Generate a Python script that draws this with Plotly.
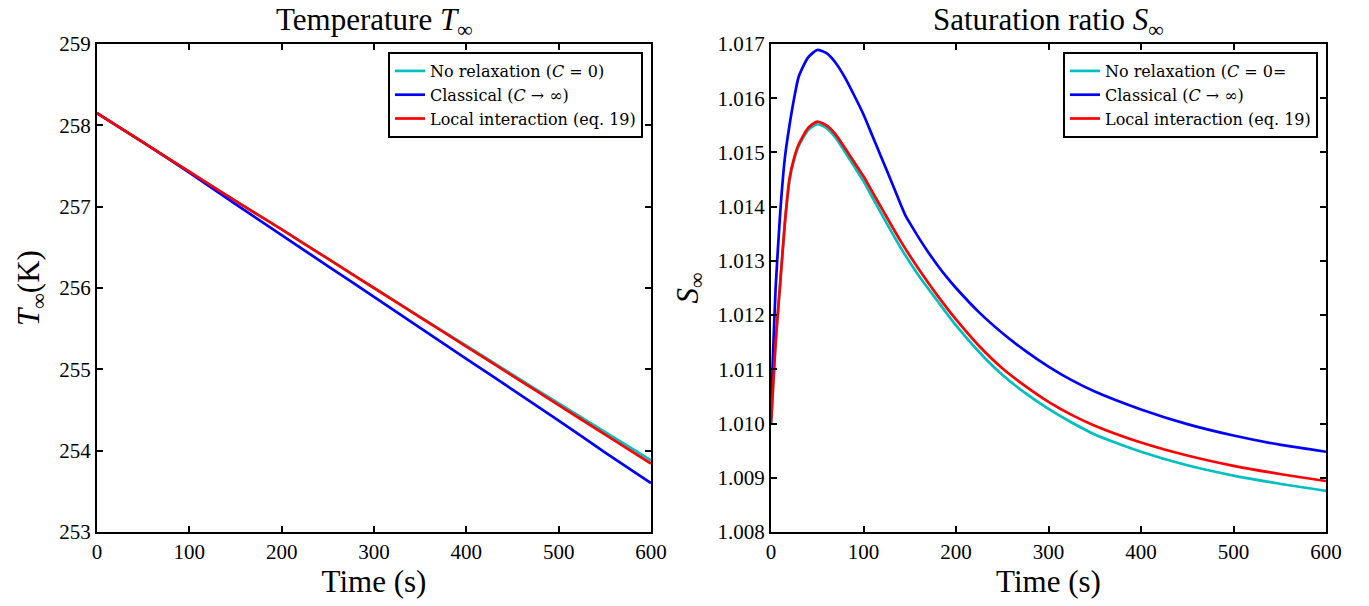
import plotly.graph_objects as go

# ---------------- data ----------------
t_T = [0, 50, 100, 150, 200, 250, 300, 350, 400, 450, 500, 550, 600]
T_none = [258.15, 257.79, 257.43, 257.07, 256.72, 256.36, 256.00, 255.645, 255.29, 254.935, 254.58, 254.23, 253.88]
T_classical = [258.15, 257.79, 257.42, 257.03, 256.65, 256.27, 255.89, 255.51, 255.13, 254.75, 254.37, 253.98, 253.60]
T_local = [258.15, 257.79, 257.43, 257.07, 256.72, 256.36, 256.00, 255.64, 255.28, 254.92, 254.56, 254.20, 253.84]

t_S_cls = [0, 2, 5, 10, 15, 20, 25, 30, 40, 50, 60, 70, 80, 90, 100, 110, 120, 130, 140, 145,
           150, 160, 170, 180, 190, 200, 225, 250, 275, 300, 325, 350, 400, 450, 500, 550, 600]
S_classical = [1.0101, 1.0112, 1.0125, 1.0139, 1.0149, 1.0155, 1.0160, 1.0164, 1.01675, 1.01689,
               1.01683, 1.01665, 1.01638, 1.01605, 1.01570, 1.01529, 1.01488, 1.01447, 1.01405, 1.01385,
               1.01370, 1.01342, 1.01316, 1.01292, 1.01270, 1.01250, 1.01205, 1.01167, 1.01134, 1.01105,
               1.01080, 1.01059, 1.01026, 1.00999, 1.00978, 1.00961, 1.00948]

t_S = [0, 2, 5, 10, 15, 20, 25, 30, 40, 50, 60, 70, 80, 90, 100, 110, 120, 140, 160, 180,
       200, 225, 250, 275, 300, 325, 350, 400, 450, 500, 550, 600]
S_none = [1.0100, 1.0106, 1.0115, 1.0126, 1.0137, 1.01448, 1.01487, 1.01512, 1.01541, 1.01552,
          1.01545, 1.01527, 1.01501, 1.01474, 1.01447, 1.01416, 1.01385, 1.01325, 1.01272, 1.01226,
          1.01181, 1.01132, 1.01090, 1.01056, 1.01027, 1.01002, 1.00980, 1.00948, 1.00923, 1.00904,
          1.00889, 1.00876]
S_local = [1.0100, 1.0106, 1.0115, 1.0126, 1.0137, 1.01452, 1.0149, 1.01515, 1.01545, 1.01557,
           1.01550, 1.01533, 1.01508, 1.01482, 1.01456, 1.01426, 1.01396, 1.01337, 1.01284, 1.01236,
           1.01192, 1.01143, 1.01102, 1.01069, 1.01040, 1.01016, 1.00996, 1.00965, 1.00941, 1.00922,
           1.00907, 1.00894]

names_left = ["No relaxation (<i>C</i> = 0)", "Classical (<i>C</i> → ∞)", "Local interaction (eq. 19)"]
names_right = ["No relaxation (<i>C</i> = 0=", "Classical (<i>C</i> → ∞)", "Local interaction (eq. 19)"]
colors = ["#00BFBF", "#0000FF", "#FF0000"]

FONT = "Liberation Serif"
LFONT = "DejaVu Serif"
W, H = 1369, 606
ml, mr, mt, mb = 97, 43, 44, 74
pw = W - ml - mr
left_dom = [0, (651 - 97) / pw]
right_dom = [(771 - 97) / pw, 1]

fig = go.Figure()

# left panel
for x, y, n, c in [(t_T, T_none, names_left[0], colors[0]),
                   (t_T, T_classical, names_left[1], colors[1]),
                   (t_T, T_local, names_left[2], colors[2])]:
    fig.add_trace(go.Scatter(x=x, y=y, mode="lines", name=n,
                             line=dict(color=c, width=2.7, shape="spline", smoothing=0.6),
                             xaxis="x", yaxis="y", legend="legend"))

# right panel
for x, y, n, c in [(t_S, S_none, names_right[0], colors[0]),
                   (t_S_cls, S_classical, names_right[1], colors[1]),
                   (t_S, S_local, names_right[2], colors[2])]:
    fig.add_trace(go.Scatter(x=x, y=y, mode="lines", name=n,
                             line=dict(color=c, width=2.7, shape="spline", smoothing=0.6),
                             xaxis="x2", yaxis="y2", legend="legend2"))

axis_common = dict(showline=True, linewidth=2, linecolor="black", mirror="ticks",
                   ticks="inside", ticklen=6, tickwidth=2, tickcolor="black",
                   showgrid=False, zeroline=False,
                   tickfont=dict(family=FONT, size=21, color="black"))

legend_common = dict(xanchor="right", yanchor="top",
                     bgcolor="white", bordercolor="black", borderwidth=2,
                     font=dict(family=LFONT, size=16, color="black"), tracegroupgap=0,
                     itemwidth=30)

fig.update_layout(
    width=W, height=H,
    margin=dict(l=ml, r=mr, t=mt, b=mb),
    paper_bgcolor="white", plot_bgcolor="white",
    font=dict(family=FONT, color="black"),
    xaxis=dict(domain=left_dom, range=[0, 600], dtick=100, anchor="y",
               title=dict(text="Time (s)", font=dict(family=FONT, size=31), standoff=6),
               **axis_common),
    yaxis=dict(range=[253, 259], dtick=1, anchor="x",
               title=dict(text="<i>T</i><sub>∞</sub>(K)", font=dict(family=FONT, size=31), standoff=10),
               **axis_common),
    xaxis2=dict(domain=right_dom, range=[0, 600], dtick=100, anchor="y2",
                title=dict(text="Time (s)", font=dict(family=FONT, size=31), standoff=6),
                **axis_common),
    yaxis2=dict(range=[1.008, 1.017], dtick=0.001, tickformat=".3f", anchor="x2",
                title=dict(text="<i>S</i><sub>∞</sub>", font=dict(family=FONT, size=31), standoff=10),
                **axis_common),
    legend=dict(x=(643 - ml) / pw, y=1 - (52 - mt) / 488, **legend_common),
    legend2=dict(x=(1318 - ml) / pw, y=1 - (52 - mt) / 488, **legend_common),
    annotations=[
        dict(text="Temperature <i>T</i><sub>∞</sub>", x=(left_dom[0] + left_dom[1]) / 2, y=1,
             xref="paper", yref="paper", xanchor="center", yanchor="bottom", yshift=0,
             showarrow=False, font=dict(family=FONT, size=31, color="black")),
        dict(text="Saturation ratio <i>S</i><sub>∞</sub>", x=(right_dom[0] + right_dom[1]) / 2, y=1,
             xref="paper", yref="paper", xanchor="center", yanchor="bottom", yshift=0,
             showarrow=False, font=dict(family=FONT, size=31, color="black")),
    ],
)

fig.write_html("out.html")
